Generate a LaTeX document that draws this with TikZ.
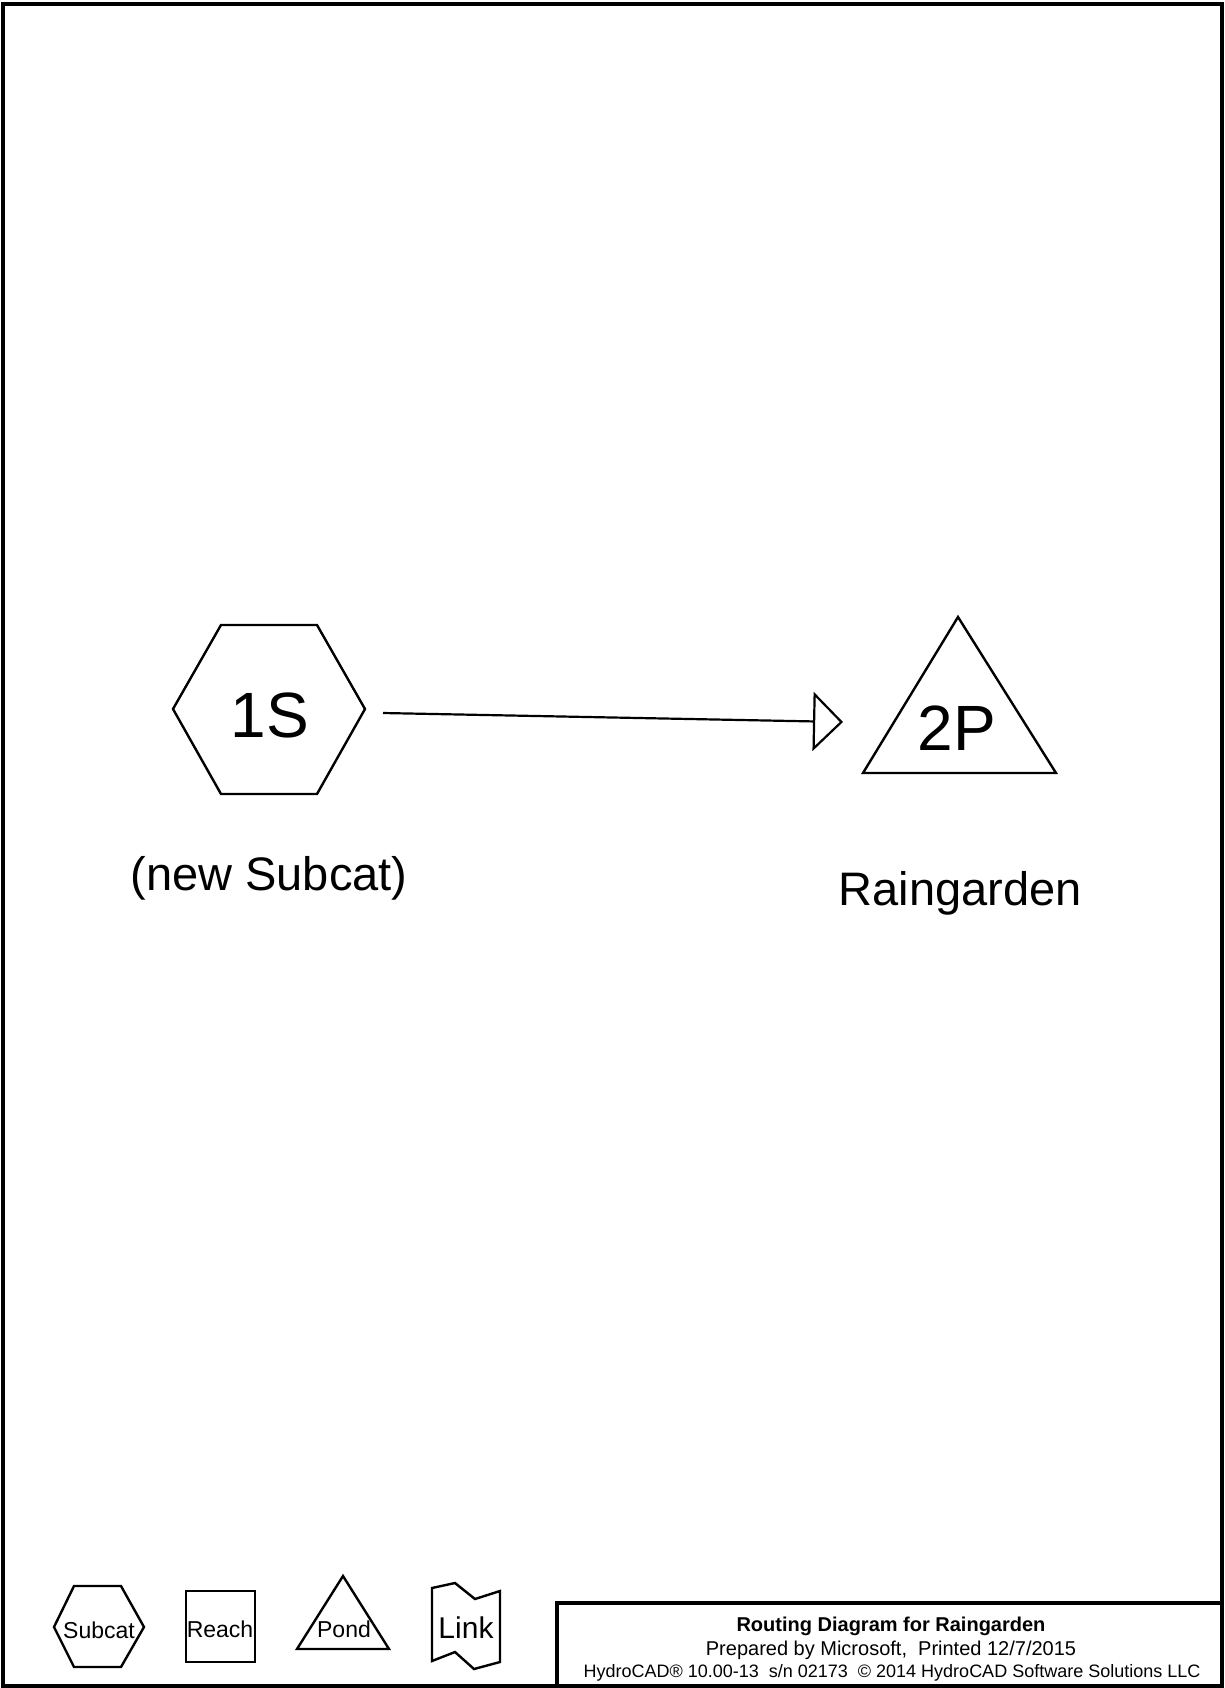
\documentclass[tikz,border=0pt]{standalone}
\usepackage{fontspec}
\setmainfont{Liberation Sans}
\usetikzlibrary{arrows.meta}
\begin{document}
\begin{tikzpicture}[x=0.5pt,y=-0.5pt,
  shp/.style={draw=black, line width=1.2pt, line join=miter},
  txt/.style={inner sep=0pt, outer sep=0pt, anchor=base},
  bigtxt/.style={txt, font=\fontsize{32}{38}\selectfont},
  midtxt/.style={txt, font=\fontsize{23.5}{28}\selectfont},
  legtxt/.style={txt, font=\fontsize{11.5}{14}\selectfont},
  linktxt/.style={txt, font=\fontsize{15}{18}\selectfont},
  ttltxt/.style={txt, font=\fontsize{10}{12}\selectfont},
  smalltxt/.style={txt, font=\fontsize{9}{11}\selectfont},
  flow/.style={draw=black, line width=1.1pt, -{Triangle[open,length=15pt,width=29.5pt,line width=1.1pt]}},
]
\useasboundingbox (0,0) rectangle (1225,1688);
% page frame
\draw[line width=2pt] (3,4) rectangle (1222,1686);

% node 1S (hexagon)
\draw[shp] (173,709) -- (221,625) -- (317,625) -- (365,709) -- (317,794) -- (221,794) -- cycle;
\node[bigtxt] (n1S) at (270,737) {1S};
\node[midtxt] (n1Slbl) at (269,890) {(new Subcat)};

% node 2P (triangle)
\draw[shp] (958,617) -- (1056,773) -- (863,773) -- cycle;
\node[bigtxt] (n2P) at (957,750) {2P};
\node[midtxt] (n2Plbl) at (960,905) {Raingarden};

% connector
\coordinate (a1) at (383,713);
\coordinate (a2) at (843,722);
\draw[flow] (a1) -- (a2);

% legend
\draw[shp] (54,1627) -- (74,1586) -- (121,1586) -- (144,1627) -- (121,1667) -- (74,1667) -- cycle;
\node[legtxt] (lgS) at (99,1638) {Subcat};
\draw[shp] (186,1591) rectangle (255,1662);
\node[legtxt] (lgR) at (220,1637) {Reach};
\draw[shp] (343,1576) -- (389,1649) -- (297,1649) -- cycle;
\node[legtxt] (lgP) at (344,1637) {Pond};
\draw[shp] (432,1588) -- (455,1583) -- (475,1599) -- (500,1591) -- (500,1662) -- (474,1669) -- (455,1652) -- (432,1661) -- cycle;
\node[linktxt] (lgL) at (466,1638) {Link};

% title block
\draw[line width=1.6pt] (557,1686) -- (557,1603) -- (1222,1603);
\node[ttltxt, font=\fontsize{10}{12}\selectfont\bfseries] (t1) at (891,1631) {Routing Diagram for Raingarden};
\node[ttltxt] (t2) at (891,1655) {Prepared by Microsoft,\ \ Printed 12/7/2015};
\node[smalltxt] (t3) at (892,1677) {HydroCAD® 10.00-13\ \ s/n 02173\ \ © 2014 HydroCAD Software Solutions LLC};
\end{tikzpicture}
\end{document}
